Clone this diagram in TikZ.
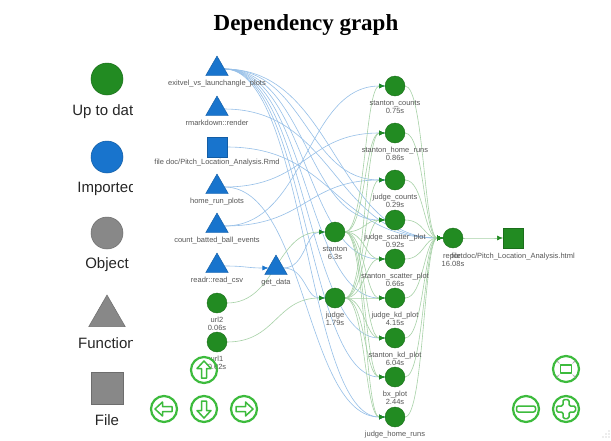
\documentclass[tikz,border=0pt]{standalone}
\usepackage{fontspec}
\setmainfont{Liberation Serif}
\setsansfont{Liberation Sans}
\usetikzlibrary{arrows.meta,shapes.geometric,calc,backgrounds}

\definecolor{uptodate}{HTML}{228B22}
\definecolor{imported}{HTML}{1874CD}
\definecolor{objgray}{HTML}{888888}
\definecolor{navgreen}{HTML}{3DBB3D}
\definecolor{lblgray}{HTML}{575757}

\tikzset{
  target/.style={circle, fill=uptodate, draw=uptodate!80!black, line width=0.4pt,
    minimum size=20pt, inner sep=0pt, outer sep=0pt},
  func/.style={regular polygon, regular polygon sides=3, fill=imported,
    draw=imported!80!black, line width=0.4pt, minimum size=26pt, inner sep=0pt, outer sep=0pt},
  filebox/.style={rectangle, fill=#1, draw=#1!80!black, line width=0.4pt,
    minimum size=20pt, inner sep=0pt, outer sep=0pt},
  legcircle/.style={circle, fill=#1, draw=#1!80!black, line width=0.5pt,
    minimum size=32pt, inner sep=0pt},
  lbl/.style={font=\sffamily\fontsize{7.5}{8}\selectfont, text=lblgray,
    inner sep=0pt, align=center, label distance=4pt},
  legtext/.style={font=\sffamily\fontsize{15}{17}\selectfont, text=black!85, inner sep=0pt},
  imp edge/.style={draw=imported!45, line width=0.6pt,
    -{Latex[length=6pt,width=5pt,color=imported]}},
  utd edge/.style={draw=uptodate!40, line width=0.6pt,
    -{Latex[length=6pt,width=5pt,color=uptodate]}},
  navbtn/.style={circle, draw=navgreen, line width=2.2pt, minimum size=26pt, inner sep=0pt},
  navicon/.style={draw=navgreen, fill=white, line width=1.5pt, line join=round},
  navarrow/.pic={\draw[navicon] (0,-9) -- (7,-1.5) -- (2.5,-1.5) -- (2.5,8)
    -- (-2.5,8) -- (-2.5,-1.5) -- (-7,-1.5) -- cycle;}
}

\newcommand{\depedge}[3]{%
  \draw[#1] let \p1=(#2.center), \p2=(#3.center) in
    (#2) .. controls ({(\x1+\x2)/2},\y1) and ({(\x1+\x2)/2},\y2) .. (#3);}

\begin{document}
\begin{tikzpicture}[x=1pt, y=-1pt]
\useasboundingbox (0,0) rectangle (611,440);
\node[font=\bfseries\fontsize{23}{26}\selectfont] (title) at (306,25) {Dependency graph};

\begin{scope}
\clip (0,40) rectangle (132.7,440);
\node[legcircle=uptodate] (legutd) at (107,79) {};
\node[legtext] (legutdtext) at (107,112) {Up to date};
\node[legcircle=imported] (legimp) at (107,157) {};
\node[legtext] (legimptext) at (107,189) {Imported};
\node[legcircle=objgray] (legobj) at (107,233) {};
\node[legtext] (legobjtext) at (107,265) {Object};
\node[regular polygon, regular polygon sides=3, fill=objgray, draw=objgray!80!black,
  line width=0.5pt, minimum size=42pt, inner sep=0pt] (legfun) at (107,316) {};
\node[legtext] (legfuntext) at (107,343) {Function};
\node[filebox=objgray, minimum size=32pt] (legfile) at (107,388) {};
\node[legtext] (legfiletext) at (107,420) {File};
\end{scope}

\node[func, label={[lbl]below:{exitvel\_vs\_launchangle\_plots}}] (exitvel) at (217,69) {};
\node[func, label={[lbl]below:{rmarkdown::render}}] (render) at (217,109) {};
\node[filebox=imported, label={[lbl,label distance=2pt]below:{file doc/Pitch\_Location\_Analysis.Rmd}}] (rmd) at (217,147) {};
\node[func, label={[lbl]below:{home\_run\_plots}}] (hrplots) at (217,187) {};
\node[func, label={[lbl]below:{count\_batted\_ball\_events}}] (countbb) at (217,226) {};
\node[func, label={[lbl]below:{readr::read\_csv}}] (readcsv) at (217,266) {};
\node[target, label={[lbl]below:{url2\\0.06s}}] (urltwo) at (217,303) {};
\node[target, label={[lbl]below:{url1\\0.02s}}] (urlone) at (217,342) {};
\node[func, label={[lbl]below:{get\_data}}] (getdata) at (276,268) {};
\node[target, label={[lbl]below:{stanton\\6.3s}}] (stanton) at (335,232) {};
\node[target, label={[lbl]below:{judge\\1.79s}}] (judge) at (335,298) {};

\node[target, label={[lbl]below:{stanton\_counts\\0.75s}}] (scounts) at (395,86) {};
\node[target, label={[lbl]below:{stanton\_home\_runs\\0.86s}}] (shr) at (395,133) {};
\node[target, label={[lbl]below:{judge\_counts\\0.29s}}] (jcounts) at (395,180) {};
\node[target, label={[lbl]below:{judge\_scatter\_plot\\0.92s}}] (jscatter) at (395,220) {};
\node[target, label={[lbl]below:{stanton\_scatter\_plot\\0.66s}}] (sscatter) at (395,259) {};
\node[target, label={[lbl]below:{judge\_kd\_plot\\4.15s}}] (jkd) at (395,298) {};
\node[target, label={[lbl]below:{stanton\_kd\_plot\\6.04s}}] (skd) at (395,338) {};
\node[target, label={[lbl]below:{bx\_plot\\2.44s}}] (bx) at (395,377) {};
\node[target, label={[lbl]below:{judge\_home\_runs}}] (jhr) at (395,417) {};

\node[target, label={[lbl,label distance=5pt]below:{report\\16.08s}}] (report) at (453,238) {};
\node[filebox=uptodate, label={[lbl,label distance=5pt]below:{file doc/Pitch\_Location\_Analysis.html}}] (html) at (513,238) {};

\begin{scope}[on background layer]
\fill[white] (0,0) rectangle (611,440);
\foreach \t in {jcounts,jscatter,sscatter,jkd,skd,bx,jhr,report}
  \depedge{imp edge}{exitvel}{\t};
\depedge{imp edge}{render}{report};
\depedge{imp edge}{rmd}{report};
\foreach \t in {shr,jhr} \depedge{imp edge}{hrplots}{\t};
\foreach \t in {scounts,jcounts} \depedge{imp edge}{countbb}{\t};
\depedge{imp edge}{readcsv}{getdata};
\foreach \t in {stanton,judge} \depedge{imp edge}{getdata}{\t};
\depedge{utd edge}{urltwo}{stanton};
\depedge{utd edge}{urlone}{judge};
\foreach \t in {scounts,shr,jscatter,sscatter,jkd,skd,bx,jhr}
  \depedge{utd edge}{stanton}{\t};
\foreach \t in {shr,jcounts,jscatter,sscatter,jkd,skd,bx,jhr}
  \depedge{utd edge}{judge}{\t};
\foreach \t in {scounts,shr,jcounts,jscatter,sscatter,jkd,skd,bx,jhr}
  \depedge{utd edge}{\t}{report};
\depedge{utd edge}{report}{html};
\end{scope}

\node[navbtn] (navup) at (204,370) {};
\node[navbtn] (navleft) at (164,409) {};
\node[navbtn] (navdown) at (204,409) {};
\node[navbtn] (navright) at (244,409) {};
\node[navbtn] (zoomfit) at (566,369) {};
\node[navbtn] (zoomout) at (526,409) {};
\node[navbtn] (zoomin) at (566,409) {};
\pic at (navup) {navarrow};
\pic[rotate=90] at (navleft) {navarrow};
\pic[rotate=180] at (navdown) {navarrow};
\pic[rotate=-90] at (navright) {navarrow};
\draw[navicon, rounded corners=2pt] ([shift={(-9.5,-3)}]zoomout.center) rectangle ([shift={(9.5,3)}]zoomout.center);
\draw[navicon, rounded corners=1.5pt, shift={(zoomin.center)}] (-3,-9.5) -- (3,-9.5) -- (3,-3) -- (9.5,-3) -- (9.5,3) -- (3,3)
  -- (3,9.5) -- (-3,9.5) -- (-3,3) -- (-9.5,3) -- (-9.5,-3) -- (-3,-3) -- cycle;
\draw[navicon, line width=1.4pt, fill=none] ([shift={(-5.3,-4)}]zoomfit.center) rectangle ([shift={(5.3,4)}]zoomfit.center);
\foreach \sx/\sy in {-1/-1,1/-1,-1/1,1/1}
  \draw[gray!70, line width=0.6pt, -{Stealth[length=2pt,width=2.2pt]}]
    ([shift={(\sx*6.5,\sy*5.5)}]zoomfit.center) -- ([shift={(\sx*9.5,\sy*8.5)}]zoomfit.center);
\foreach \px/\py in {603/437,606/434,606/437,609/431,609/434,609/437}
  \fill[gray!60] (\px,\py) circle (0.6);
\end{tikzpicture}
\end{document}
